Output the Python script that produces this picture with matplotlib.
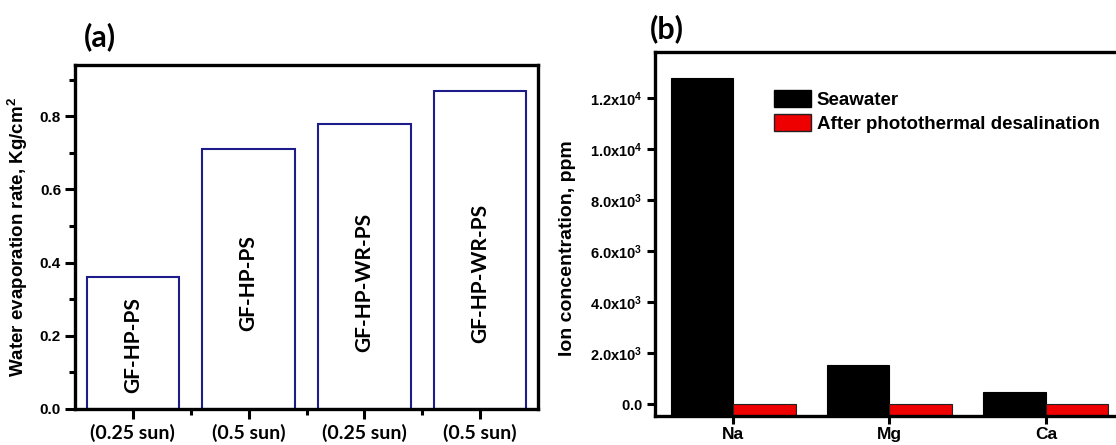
import matplotlib.pyplot as plt
import numpy as np
from matplotlib.patches import Patch
from matplotlib.ticker import MultipleLocator, FuncFormatter

plt.rcParams['mathtext.fontset'] = 'custom'
plt.rcParams['mathtext.rm'] = 'Liberation Sans:bold'
plt.rcParams['mathtext.bf'] = 'Liberation Sans:bold'

# panel (a): evaporation rate
samples = ['GF-HP-PS', 'GF-HP-PS', 'GF-HP-WR-PS', 'GF-HP-WR-PS']
suns = ['(0.25 sun)', '(0.5 sun)', '(0.25 sun)', '(0.5 sun)']
evap_rate = [0.36, 0.71, 0.78, 0.87]
label_y = [0.175, 0.344, 0.347, 0.37]

# panel (b): ion concentration
ions = ['Na', 'Mg', 'Ca']
seawater = [12800, 1530, 470]
desalinated = [0, 0, 0]

fig = plt.figure(figsize=(11.16, 4.45), dpi=100)
W, H = 1116, 445

def px_axes(l, t, r, b):
    return fig.add_axes([l / W, 1 - b / H, (r - l) / W, (b - t) / H])

# ---------- (a) ----------
ax = px_axes(75, 65, 538, 409)
x = np.arange(len(evap_rate))
ax.bar(x, evap_rate, width=0.8, facecolor='white', edgecolor='#1c1c8a', linewidth=1.5)
for i, s in enumerate(samples):
    ax.text(i, label_y[i], s, rotation=90, ha='center', va='center',
            family='Lato', fontweight='bold', fontsize=15)
ax.set_xlim(-0.5, 3.5)
ax.set_ylim(0, 0.94)
ax.set_xticks(x)
ax.set_xticklabels(suns, family='Lato', fontweight='bold', fontsize=14)
ax.xaxis.set_minor_locator(plt.FixedLocator(x[:-1] + 0.5))
ax.yaxis.set_major_locator(MultipleLocator(0.2))
ax.yaxis.set_minor_locator(MultipleLocator(0.1))
ax.yaxis.set_major_formatter(FuncFormatter(lambda v, p: f'{v:.1f}'))
for lab in ax.get_yticklabels():
    lab.set_fontweight('bold')
    lab.set_family('Liberation Sans')
    lab.set_fontsize(11)
ax.tick_params(axis='both', which='major', direction='out', length=7, width=2.2, pad=3)
ax.tick_params(axis='both', which='minor', direction='out', length=4, width=2.2)
ax.tick_params(axis='x', which='major', pad=4)
ax.tick_params(top=False, right=False)
for sp in ax.spines.values():
    sp.set_linewidth(2.4)
ax.set_ylabel('Water evaporation rate, Kg/cm$^\\mathbf{2}$', family='Liberation Sans',
              fontweight='bold', fontsize=13.5)
ax.yaxis.set_label_coords(-0.097, 0.5)
fig.text(84 / W, 1 - 37 / H, '(a)', family='Lato', fontweight='bold', fontsize=22,
         ha='left', va='center')

# ---------- (b) ----------
bx = px_axes(655, 52, 1124, 416)
xi = np.arange(len(ions))
ymin = -470
bx.bar(xi - 0.2, np.array(seawater) - ymin, bottom=ymin, width=0.4, color='black',
       edgecolor='black', linewidth=0.8, label='Seawater')
bx.bar(xi + 0.2, np.array(desalinated) - ymin, bottom=ymin, width=0.4, color='#ee0000',
       edgecolor='#222222', linewidth=0.8, label='After photothermal desalination')
bx.set_xlim(-0.5, 2.5)
bx.set_ylim(ymin, 13800)
bx.set_xticks(xi)
bx.set_xticklabels(ions, family='Liberation Sans', fontweight='bold', fontsize=12.5)
bx.set_yticks(np.arange(0, 12001, 2000))

def sci(v, p):
    if v == 0:
        return r'$\mathbf{0.0}$'
    e = int(np.floor(np.log10(v)))
    return r'$\mathbf{%.1fx10^{%d}}$' % (v / 10 ** e, e)

bx.yaxis.set_major_formatter(FuncFormatter(sci))
for lab in bx.get_yticklabels():
    lab.set_fontsize(10.5)
bx.tick_params(axis='both', which='major', direction='out', length=6, width=2.2, pad=3)
bx.tick_params(axis='x', pad=2)
for sp in bx.spines.values():
    sp.set_linewidth(2.4)
bx.set_ylabel('Ion concentration, ppm', family='Liberation Sans', fontweight='bold',
              fontsize=14)
bx.yaxis.set_label_coords(-0.168, 0.46)
handles = [Patch(facecolor='black', edgecolor='black', label='Seawater'),
           Patch(facecolor='#ee0000', edgecolor='#222222', label='After photothermal desalination')]
leg = bx.legend(handles=handles, loc='upper left', bbox_to_anchor=(774 / W, 1 - 90 / H),
                bbox_transform=fig.transFigure, frameon=False, borderpad=0, borderaxespad=0,
                handlelength=1.97, handleheight=1.0, handletextpad=0.3, labelspacing=0.3,
                prop={'family': 'Liberation Sans', 'weight': 'bold', 'size': 13.5})
fig.text(650 / W, 1 - 29 / H, '(b)', family='Lato', fontweight='bold', fontsize=22,
         ha='left', va='center')

fig.savefig('out.png', dpi=100)
